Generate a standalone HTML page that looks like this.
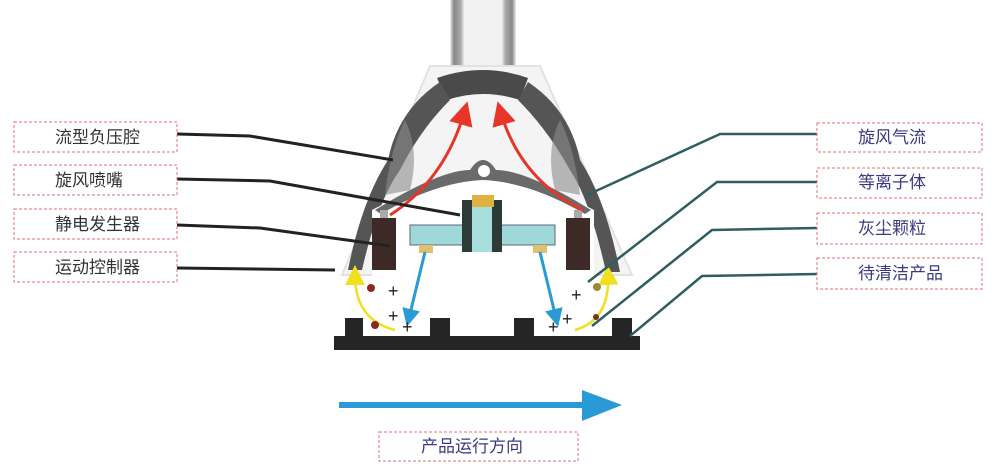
<!DOCTYPE html>
<html><head><meta charset="utf-8"><style>
html,body{margin:0;padding:0;background:#fff;}
svg{display:block}
text{font-family:"Liberation Sans","Noto Sans CJK SC",sans-serif;font-size:17px;fill:#333;}
</style></head><body>
<svg width="1000" height="473" viewBox="0 0 1000 473" xmlns="http://www.w3.org/2000/svg">
<defs>
<linearGradient id="pipe" x1="0" x2="1"><stop offset="0" stop-color="#f0f0f0"/><stop offset="0.06" stop-color="#888"/><stop offset="0.16" stop-color="#aaa"/><stop offset="0.22" stop-color="#f2f2f2"/><stop offset="0.78" stop-color="#f2f2f2"/><stop offset="0.84" stop-color="#aaa"/><stop offset="0.94" stop-color="#888"/><stop offset="1" stop-color="#f0f0f0"/></linearGradient>
<marker id="ar" markerWidth="8" markerHeight="8" refX="5" refY="4" orient="auto" markerUnits="strokeWidth"><path d="M0,0 L8,4 L0,8 Z" fill="#e8352a"/></marker>
<marker id="ab" markerWidth="6" markerHeight="6" refX="3" refY="3" orient="auto" markerUnits="strokeWidth"><path d="M0,0 L6,3 L0,6 Z" fill="#2a9ad6"/></marker>
<marker id="ay" markerWidth="8" markerHeight="8" refX="4" refY="4" orient="auto" markerUnits="strokeWidth"><path d="M0,0 L8,4 L0,8 Z" fill="#f0e020"/></marker>
</defs>
<!-- pipe -->
<rect x="450" y="0" width="66" height="70" fill="url(#pipe)"/>
<!-- body -->
<path d="M430,66 L540,66 L632,275 L342,275 Z" fill="#f4f4f4" stroke="#e2e2e2" stroke-width="2"/>
<!-- dark arms -->
<path d="M437,78 Q483,62 528,78 L520,100 Q483,88 447,100 Z" fill="#4a4a4a"/>
<path d="M440,82 Q398,110 388,160 Q362,200 348,270 L362,270 Q378,200 400,170 Q420,130 450,100 Z" fill="#555"/>
<path d="M528,82 Q570,110 580,160 Q606,200 620,272 L606,272 Q590,200 570,170 Q548,130 518,100 Z" fill="#555"/>
<path d="M405,120 Q420,150 410,190 L385,195 Q390,150 405,120Z" fill="#8a8a8a" opacity="0.6"/>
<path d="M560,120 Q545,150 555,190 L580,195 Q575,150 560,120Z" fill="#8a8a8a" opacity="0.6"/>
<!-- inner cavity -->
<path d="M372,210 Q483,150 594,210 L594,278 L372,278 Z" fill="#fff"/>
<path d="M375,210 Q440,170 470,170 Q483,150 496,170 Q526,170 591,210 L585,214 Q530,182 483,180 Q436,182 381,214 Z" fill="#6a6a6a"/>
<circle cx="484" cy="171" r="6" fill="#fff"/>
<!-- electrodes -->
<rect x="372" y="218" width="24" height="52" fill="#3d2a26"/>
<rect x="566" y="218" width="24" height="52" fill="#3d2a26"/>
<rect x="380" y="210" width="8" height="8" fill="#aaa"/>
<rect x="574" y="210" width="8" height="8" fill="#aaa"/>
<!-- nozzle -->
<rect x="410" y="225" width="145" height="20" fill="#9fd8d8" stroke="#667" stroke-width="1"/>
<rect x="462" y="200" width="40" height="52" fill="#2c3a38"/>
<rect x="472" y="205" width="20" height="47" fill="#a9dede"/>
<rect x="472" y="195" width="22" height="12" fill="#e0b040"/>
<rect x="419" y="245" width="14" height="8" fill="#e0c070"/>
<rect x="533" y="245" width="14" height="8" fill="#e0c070"/>
<!-- flow arrows -->
<path d="M390,215 Q445,180 465,110" fill="none" stroke="#e8352a" stroke-width="3" marker-end="url(#ar)"/>
<path d="M583,210 Q520,180 500,110" fill="none" stroke="#e8352a" stroke-width="3" marker-end="url(#ar)"/>
<path d="M425,252 L409,318" fill="none" stroke="#2a9ad6" stroke-width="3" marker-end="url(#ab)"/>
<path d="M540,252 L556,318" fill="none" stroke="#2a9ad6" stroke-width="3" marker-end="url(#ab)"/>
<path d="M395,330 Q355,320 355,275" fill="none" stroke="#f0e020" stroke-width="2.5" marker-end="url(#ay)"/>
<path d="M575,330 Q610,320 608,275" fill="none" stroke="#f0e020" stroke-width="2.5" marker-end="url(#ay)"/>
<!-- particles -->
<circle cx="371" cy="288" r="4" fill="#8b2a1e"/><circle cx="375" cy="325" r="4" fill="#8b2a1e"/>
<circle cx="597" cy="287" r="4" fill="#9a8a30"/><circle cx="596" cy="317" r="3" fill="#7a3020"/>
<text x="388" y="297" style="font-size:18px;fill:#222">+</text><text x="388" y="322" style="font-size:18px;fill:#222">+</text><text x="402" y="333" style="font-size:18px;fill:#222">+</text>
<text x="571" y="301" style="font-size:18px;fill:#222">+</text><text x="562" y="325" style="font-size:18px;fill:#222">+</text><text x="548" y="333" style="font-size:18px;fill:#222">+</text>
<!-- base -->
<rect x="334" y="336" width="306" height="14" fill="#252525"/>
<rect x="345" y="318" width="18" height="19" fill="#252525"/>
<rect x="430" y="318" width="20" height="19" fill="#252525"/>
<rect x="514" y="318" width="20" height="19" fill="#252525"/>
<rect x="612" y="318" width="20" height="19" fill="#252525"/>
<!-- leaders left -->
<g fill="none" stroke="#222" stroke-width="3">
<polyline points="177,134 250,136 393,160"/>
<polyline points="177,179 270,181 460,215"/>
<polyline points="177,225 260,228 390,246"/>
<polyline points="177,268 335,270"/>
</g>
<g fill="none" stroke="#2e5e60" stroke-width="2.5">
<polyline points="817,134 720,134 585,196"/>
<polyline points="817,182 717,182 588,282"/>
<polyline points="817,228 712,230 592,326"/>
<polyline points="817,274 702,276 630,336"/>
</g>
<!-- label boxes -->
<g fill="none" stroke="#e07070" stroke-width="1" stroke-dasharray="3,2">
<rect x="14" y="122" width="163" height="30"/>
<rect x="14" y="165" width="163" height="30"/>
<rect x="14" y="209" width="163" height="30"/>
<rect x="14" y="252" width="163" height="30"/>
<rect x="817" y="123" width="165" height="29"/>
<rect x="817" y="168" width="165" height="30"/>
<rect x="817" y="213" width="165" height="31"/>
<rect x="817" y="258" width="165" height="31"/>
<rect x="379" y="432" width="199" height="29"/>
</g>
<text x="55" y="143">流型负压腔</text>
<text x="55" y="186">旋风喷嘴</text>
<text x="55" y="230">静电发生器</text>
<text x="55" y="273">运动控制器</text>
<text x="858" y="143" style="fill:#3a3a80">旋风气流</text>
<text x="858" y="188" style="fill:#3a3a80">等离子体</text>
<text x="858" y="234" style="fill:#3a3a80">灰尘颗粒</text>
<text x="858" y="279" style="fill:#3a3a80">待清洁产品</text>
<text x="421" y="452" style="fill:#3a3a80">产品运行方向</text>
<!-- direction arrow -->
<rect x="339" y="402" width="250" height="6" fill="#2a9ad6"/>
<path d="M582,390 L622,405 L582,421 Z" fill="#2a9ad6"/>
</svg>
</body></html>
